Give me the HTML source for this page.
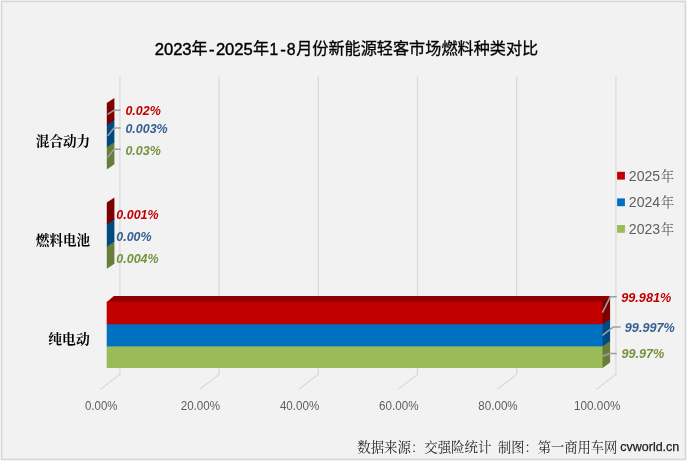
<!DOCTYPE html>
<html lang="zh-CN"><head><meta charset="utf-8"><title>2023年-2025年1-8月份新能源轻客市场燃料种类对比</title>
<style>html,body{margin:0;padding:0;background:#fff;}body{width:687px;height:461px;overflow:hidden;font-family:"Liberation Sans",sans-serif;}</style>
</head><body>
<svg role="img" aria-label="2023年-2025年1-8月份新能源轻客市场燃料种类对比" width="687" height="461" viewBox="0 0 687 461" style="display:block;will-change:transform">
<rect x="0" y="0" width="687" height="461" fill="#fbfbfb"/>
<rect x="1.6" y="1.4" width="683.8" height="458.0" fill="#f2f2f2" stroke="#d6d6d6" stroke-width="1.6"/>
<path d="M119.9 76.4V374.5L100.5 389.3M219.1 76.4V374.5L199.7 389.3M318.3 76.4V374.5L298.9 389.3M417.5 76.4V374.5L398.1 389.3M516.7 76.4V374.5L497.3 389.3M615.9 76.4V374.5L596.5 389.3" fill="none" stroke="#dadada" stroke-width="1.25"/>
<path d="M106.8 146.3L114.4 141.2V164.3L106.8 169.4Z" fill="#687d3b"/><path d="M106.8 124.2L114.4 119.1V142.2L106.8 147.3Z" fill="#004a80"/><path d="M106.8 103.1L114.4 98.0V120.1L106.8 125.2Z" fill="#7c0000"/>
<path d="M106.8 245.7L114.4 240.6V263.7L106.8 268.8Z" fill="#687d3b"/><path d="M106.8 223.6L114.4 218.5V241.6L106.8 246.7Z" fill="#004a80"/><path d="M106.8 202.5L114.4 197.4V219.5L106.8 224.6Z" fill="#7c0000"/>
<path d="M106.7 302.20000000000005L113.8 296.1H610.0999999999999L602.9499999999999 302.20000000000005Z" fill="#900000"/>
<path d="M601.9499999999999 345.85L610.0999999999999 339.90V362.50L601.9499999999999 368.45Z" fill="#687d3b"/>
<path d="M601.9499999999999 323.65L610.0999999999999 317.70V340.90L601.9499999999999 346.85Z" fill="#004a80"/>
<path d="M601.9499999999999 302.05L610.0999999999999 296.10V318.70L601.9499999999999 324.65Z" fill="#7c0000"/>
<rect x="106.7" y="345.40" width="495.85" height="22.60" fill="#9bbb59"/>
<rect x="106.7" y="323.20" width="495.85" height="23.20" fill="#0070c0"/>
<rect x="106.7" y="301.60" width="495.85" height="22.60" fill="#c00000"/>
<path d="M107.6 114.4L114 110.2H120.6M107.6 135.9L114 128.1H120.6M107.6 157.4L114 149.3H120.6M602.4 312.7L610.3 296.8H616.7M602.4 335.3L613.2 327.1H620.7M602.4 356.3L609.7 353.5H616.7" fill="none" stroke="#a0a0a0" stroke-width="1.5"/>
<text x="85.0" y="410.0" font-family="'Liberation Sans', sans-serif" font-size="12.4" font-weight="normal" font-style="normal" fill="#5e5e5e" text-anchor="start" textLength="32.4" lengthAdjust="spacingAndGlyphs">0.00%</text>
<text x="180.7" y="410.0" font-family="'Liberation Sans', sans-serif" font-size="12.4" font-weight="normal" font-style="normal" fill="#5e5e5e" text-anchor="start" textLength="39.4" lengthAdjust="spacingAndGlyphs">20.00%</text>
<text x="279.9" y="410.0" font-family="'Liberation Sans', sans-serif" font-size="12.4" font-weight="normal" font-style="normal" fill="#5e5e5e" text-anchor="start" textLength="39.4" lengthAdjust="spacingAndGlyphs">40.00%</text>
<text x="379.1" y="410.0" font-family="'Liberation Sans', sans-serif" font-size="12.4" font-weight="normal" font-style="normal" fill="#5e5e5e" text-anchor="start" textLength="39.4" lengthAdjust="spacingAndGlyphs">60.00%</text>
<text x="478.3" y="410.0" font-family="'Liberation Sans', sans-serif" font-size="12.4" font-weight="normal" font-style="normal" fill="#5e5e5e" text-anchor="start" textLength="39.4" lengthAdjust="spacingAndGlyphs">80.00%</text>
<text x="574.1" y="410.0" font-family="'Liberation Sans', sans-serif" font-size="12.4" font-weight="normal" font-style="normal" fill="#5e5e5e" text-anchor="start" textLength="46.2" lengthAdjust="spacingAndGlyphs">100.00%</text>
<text x="125.4" y="115.0" font-family="'Liberation Sans', sans-serif" font-size="13.4" font-weight="bold" font-style="italic" fill="#c00000" text-anchor="start" textLength="35.4" lengthAdjust="spacingAndGlyphs">0.02%</text>
<text x="125.4" y="133.2" font-family="'Liberation Sans', sans-serif" font-size="13.4" font-weight="bold" font-style="italic" fill="#366092" text-anchor="start" textLength="42.3" lengthAdjust="spacingAndGlyphs">0.003%</text>
<text x="125.4" y="154.6" font-family="'Liberation Sans', sans-serif" font-size="13.4" font-weight="bold" font-style="italic" fill="#76923c" text-anchor="start" textLength="35.4" lengthAdjust="spacingAndGlyphs">0.03%</text>
<text x="116.3" y="218.7" font-family="'Liberation Sans', sans-serif" font-size="13.4" font-weight="bold" font-style="italic" fill="#c00000" text-anchor="start" textLength="42.3" lengthAdjust="spacingAndGlyphs">0.001%</text>
<text x="116.3" y="240.8" font-family="'Liberation Sans', sans-serif" font-size="13.4" font-weight="bold" font-style="italic" fill="#366092" text-anchor="start" textLength="35.3" lengthAdjust="spacingAndGlyphs">0.00%</text>
<text x="116.3" y="262.8" font-family="'Liberation Sans', sans-serif" font-size="13.4" font-weight="bold" font-style="italic" fill="#76923c" text-anchor="start" textLength="42.3" lengthAdjust="spacingAndGlyphs">0.004%</text>
<text x="621.2" y="301.8" font-family="'Liberation Sans', sans-serif" font-size="13.4" font-weight="bold" font-style="italic" fill="#c00000" text-anchor="start" textLength="50.1" lengthAdjust="spacingAndGlyphs">99.981%</text>
<text x="624.8" y="332.2" font-family="'Liberation Sans', sans-serif" font-size="13.4" font-weight="bold" font-style="italic" fill="#366092" text-anchor="start" textLength="50.0" lengthAdjust="spacingAndGlyphs">99.997%</text>
<text x="621.4" y="358.1" font-family="'Liberation Sans', sans-serif" font-size="13.4" font-weight="bold" font-style="italic" fill="#76923c" text-anchor="start" textLength="43.0" lengthAdjust="spacingAndGlyphs">99.97%</text>
<rect x="617.1" y="171.8" width="7.8" height="7.8" fill="#c00000"/>
<text x="628.8" y="180.7" font-family="'Liberation Sans', sans-serif" font-size="14.6" font-weight="normal" font-style="normal" fill="#5e5e5e" text-anchor="start" textLength="31.4" lengthAdjust="spacingAndGlyphs">2025</text>
<text x="660.8" y="180.7" font-family="'Liberation Serif', 'Noto Serif CJK SC', serif" font-size="13.5" fill="#5e5e5e" text-anchor="start">年</text>
<rect x="617.1" y="198.4" width="7.8" height="7.8" fill="#0070c0"/>
<text x="628.8" y="207.3" font-family="'Liberation Sans', sans-serif" font-size="14.6" font-weight="normal" font-style="normal" fill="#5e5e5e" text-anchor="start" textLength="31.4" lengthAdjust="spacingAndGlyphs">2024</text>
<text x="660.8" y="207.3" font-family="'Liberation Serif', 'Noto Serif CJK SC', serif" font-size="13.5" fill="#5e5e5e" text-anchor="start">年</text>
<rect x="617.1" y="225.0" width="7.8" height="7.8" fill="#9bbb59"/>
<text x="628.8" y="233.9" font-family="'Liberation Sans', sans-serif" font-size="14.6" font-weight="normal" font-style="normal" fill="#5e5e5e" text-anchor="start" textLength="31.4" lengthAdjust="spacingAndGlyphs">2023</text>
<text x="660.8" y="233.9" font-family="'Liberation Serif', 'Noto Serif CJK SC', serif" font-size="13.5" fill="#5e5e5e" text-anchor="start">年</text>
<text stroke="#000" stroke-width="0.4" x="154.7" y="54.5" font-family="'Liberation Sans', sans-serif" font-size="16.0" font-weight="normal" font-style="normal" fill="#000" text-anchor="start" textLength="36.9" lengthAdjust="spacingAndGlyphs">2023</text>
<text stroke="#000" stroke-width="0.4" x="208.9" y="54.5" font-family="'Liberation Sans', sans-serif" font-size="16.0" font-weight="normal" font-style="normal" fill="#000" text-anchor="start" textLength="5.6" lengthAdjust="spacingAndGlyphs">-</text>
<text stroke="#000" stroke-width="0.4" x="215.9" y="54.5" font-family="'Liberation Sans', sans-serif" font-size="16.0" font-weight="normal" font-style="normal" fill="#000" text-anchor="start" textLength="36.9" lengthAdjust="spacingAndGlyphs">2025</text>
<text stroke="#000" stroke-width="0.4" x="269.6" y="54.5" font-family="'Liberation Sans', sans-serif" font-size="16.0" font-weight="normal" font-style="normal" fill="#000" text-anchor="start" textLength="8.6" lengthAdjust="spacingAndGlyphs">1</text>
<text stroke="#000" stroke-width="0.4" x="280.3" y="54.5" font-family="'Liberation Sans', sans-serif" font-size="16.0" font-weight="normal" font-style="normal" fill="#000" text-anchor="start" textLength="5.6" lengthAdjust="spacingAndGlyphs">-</text>
<text stroke="#000" stroke-width="0.4" x="286.8" y="54.5" font-family="'Liberation Sans', sans-serif" font-size="16.0" font-weight="normal" font-style="normal" fill="#000" text-anchor="start" textLength="8.8" lengthAdjust="spacingAndGlyphs">8</text>
<text stroke="#000" stroke-width="0.3" x="191.6" y="54.0" font-family="'Liberation Sans', 'Noto Sans CJK SC', sans-serif" font-size="16" font-weight="normal" fill="#000" text-anchor="start">年</text>
<text stroke="#000" stroke-width="0.3" x="252.9" y="54.0" font-family="'Liberation Sans', 'Noto Sans CJK SC', sans-serif" font-size="16" font-weight="normal" fill="#000" text-anchor="start">年</text>
<text stroke="#000" stroke-width="0.3" x="296.2" y="54.0" font-family="'Liberation Sans', 'Noto Sans CJK SC', sans-serif" font-size="16" font-weight="normal" fill="#000" text-anchor="start" textLength="242.0" lengthAdjust="spacingAndGlyphs">月份新能源轻客市场燃料种类对比</text>
<text x="35.8" y="145.8" font-family="'Liberation Serif', 'Noto Serif CJK SC', serif" font-size="13.6" font-weight="bold" fill="#000" text-anchor="start" textLength="54.4" lengthAdjust="spacingAndGlyphs">混合动力</text>
<text x="35.8" y="245.2" font-family="'Liberation Serif', 'Noto Serif CJK SC', serif" font-size="13.6" font-weight="bold" fill="#000" text-anchor="start" textLength="54.4" lengthAdjust="spacingAndGlyphs">燃料电池</text>
<text x="48.2" y="343.5" font-family="'Liberation Serif', 'Noto Serif CJK SC', serif" font-size="13.8" font-weight="bold" fill="#000" text-anchor="start" textLength="41.6" lengthAdjust="spacingAndGlyphs">纯电动</text>
<text x="357.3" y="451.5" font-family="'Liberation Serif', 'Noto Serif CJK SC', serif" font-size="13.4" fill="#262626" text-anchor="start" textLength="134.0" lengthAdjust="spacingAndGlyphs">数据来源：交强险统计</text>
<text x="498.0" y="451.5" font-family="'Liberation Serif', 'Noto Serif CJK SC', serif" font-size="13.4" fill="#262626" text-anchor="start" textLength="119.2" lengthAdjust="spacingAndGlyphs">制图：第一商用车网</text>
<text stroke="#1c1c1c" stroke-width="0.25" x="620.3" y="450.6" font-family="'Liberation Sans', sans-serif" font-size="13" font-weight="normal" font-style="normal" fill="#1c1c1c" text-anchor="start" textLength="59.0" lengthAdjust="spacingAndGlyphs">cvworld.cn</text>
</svg>
</body></html>
